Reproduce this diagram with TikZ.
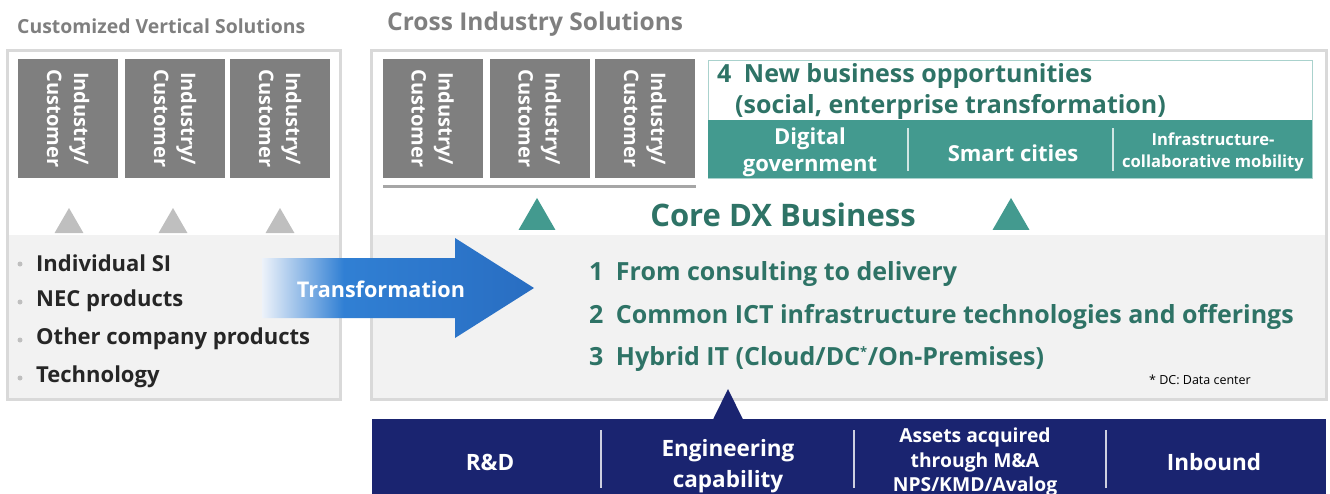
\documentclass[tikz,border=0pt]{standalone}
\usepackage{fontspec}
\setmainfont{Open Sans}
\usetikzlibrary{positioning,shapes.geometric}

\definecolor{cardgray}{HTML}{7F7F7F}
\definecolor{framegray}{HTML}{D9D9D9}
\definecolor{panelgray}{HTML}{F2F2F2}
\definecolor{trigray}{HTML}{BFBFBF}
\definecolor{tealband}{HTML}{439A8F}
\definecolor{tealtext}{HTML}{2E7366}
\definecolor{navybar}{HTML}{1A2470}
\definecolor{sepgray}{HTML}{A6A6A6}

\newcommand\fsz[2]{\fontsize{#1}{#2}\selectfont}

\pgfdeclarehorizontalshading{transfade}{100bp}{rgb(0bp)=(0.93,0.95,0.98); rgb(25bp)=(0.93,0.95,0.98); rgb(40bp)=(0.19,0.50,0.83); rgb(75bp)=(0.16,0.43,0.76); rgb(100bp)=(0.16,0.43,0.76)}

\tikzset{
  card/.style={fill=cardgray, rotate=-90, minimum width=119, minimum height=100,
    inner sep=0, align=center, text=white, font=\fsz{20}{27}\bfseries},
  tri/.style={regular polygon, regular polygon sides=3, inner sep=0, outer sep=0},
  bul/.style={anchor=west, inner sep=0, font=\fsz{22}{26}\bfseries, text=black!85},
  dot/.style={circle, fill=trigray, inner sep=0, minimum size=5},
  item/.style={anchor=west, inner sep=0, font=\fsz{25}{29}\bfseries, text=tealtext},
  bandtext/.style={align=center, inner sep=0, text=white, font=\fsz{22}{27}\bfseries},
  bartext/.style={align=center, inner sep=0, text=white, font=\fsz{22.5}{31}\bfseries},
  sep/.style={line width=2.5, draw=#1},
  title/.style={anchor=west, inner sep=0, text=cardgray, font=\bfseries}
}

\begin{document}
\begin{tikzpicture}[x=1pt, y=-1pt]
\useasboundingbox (0,0) rectangle (1330,493);

% left panel
\fill[panelgray] (8,235) rectangle (339,398);
\draw[framegray, line width=3] (7,50) rectangle (340,399);
\node[title, font=\fsz{19.4}{23}\bfseries] (ltitle) at (17,26) {Customized Vertical Solutions};
\node[card] (lc1) at (68,118.5) {Industry/\\Customer};
\node[card] (lc2) at (175,118.5) {Industry/\\Customer};
\node[card] (lc3) at (280,118.5) {Industry/\\Customer};
\node[tri, fill=trigray, minimum size=33.4] (lt1) at (69,224.7) {};
\node[tri, fill=trigray, minimum size=33.4] (lt2) at (173,224.7) {};
\node[tri, fill=trigray, minimum size=33.4] (lt3) at (280,224.7) {};
\node[dot] (d1) at (20,264) {};
\node[dot] (d2) at (20,302) {};
\node[dot] (d3) at (20,340) {};
\node[dot] (d4) at (20,378) {};
\node[bul] (b1) at (36,263) {Individual SI};
\node[bul] (b2) at (36,301) {NEC products};
\node[bul] (b3) at (36,339) {Other company products};
\node[bul] (b4) at (36,377) {Technology};

% right panel
\fill[panelgray] (372,235) rectangle (1325,398);
\draw[framegray, line width=3] (371,50) rectangle (1326,399);
\node[title, font=\fsz{24.5}{28}\bfseries] (rtitle) at (387,24) {Cross Industry Solutions};
\node[card] (rc1) at (432.5,118.5) {Industry/\\Customer};
\node[card] (rc2) at (539.5,118.5) {Industry/\\Customer};
\node[card] (rc3) at (645,118.5) {Industry/\\Customer};
\draw[sepgray, line width=3] (383,186) -- (696,186);
\node[tri, fill=tealband, minimum size=42.7] (rt1) at (537,219.3) {};
\node[tri, fill=tealband, minimum size=42.7] (rt2) at (1011,219.3) {};

% new business box
\draw[tealband!45, line width=1] (708,60) rectangle (1312,178);
\fill[tealband] (708,120) rectangle (1312,178);
\node[item] (n4) at (717,76) {4\enspace New business opportunities};
\node[item] (n4b) at (735,107) {(social, enterprise transformation)};
\node[bandtext] (dg) at (810,152) {Digital\\government};
\node[bandtext] (sc) at (1013,153) {Smart cities};
\node[bandtext, font=\fsz{16.6}{22}\bfseries] (im) at (1213,152) {Infrastructure-\\collaborative mobility};
\draw[sep=tealband!25] (908,128) -- (908,171);
\draw[sep=tealband!25] (1113,128) -- (1113,171);

\node[text=tealtext, font=\fsz{31}{35}\bfseries, inner sep=0] (core) at (783,215) {Core DX Business};
\node[item] (i1) at (589,274) {1\enspace From consulting to delivery};
\node[item] (i2) at (589,317) {2\enspace Common ICT infrastructure technologies and offerings};
\node[item] (i3) at (589,359) {3\enspace Hybrid IT (Cloud/DC\textsuperscript{\fsz{13}{13}*}/On-Premises)};
\node[anchor=west, inner sep=0, font=\fsz{12.5}{15}] (dc) at (1149,380) {* DC: Data center};

% transformation arrow
\shade[shading=transfade] (262,258) -- (455,258) -- (455,238) -- (534,288)
  -- (455,338) -- (455,318) -- (262,318) -- cycle;
\node[text=white, font=\fsz{21.6}{25}\bfseries, inner sep=0] (tr) at (381,289) {Transformation};

% foundation bar
\fill[navybar] (372,419) rectangle (1326,500);
\fill[navybar] (713,419.5) -- (728,389) -- (743,419.5) -- cycle;
\draw[sep=white!78!navybar] (601,430) -- (601,488);
\draw[sep=white!78!navybar] (854,430) -- (854,488);
\draw[sep=white!78!navybar] (1106,430) -- (1106,488);
\node[bartext] (rd) at (490,462) {R\&D};
\node[bartext] (eng) at (728,466) {Engineering\\capability};
\node[bartext, font=\fsz{19.3}{24.5}\bfseries] (ma) at (975,462) {Assets acquired\\through M\&A\\NPS/KMD/Avalog};
\node[bartext] (inb) at (1214,462) {Inbound};
\end{tikzpicture}
\end{document}
